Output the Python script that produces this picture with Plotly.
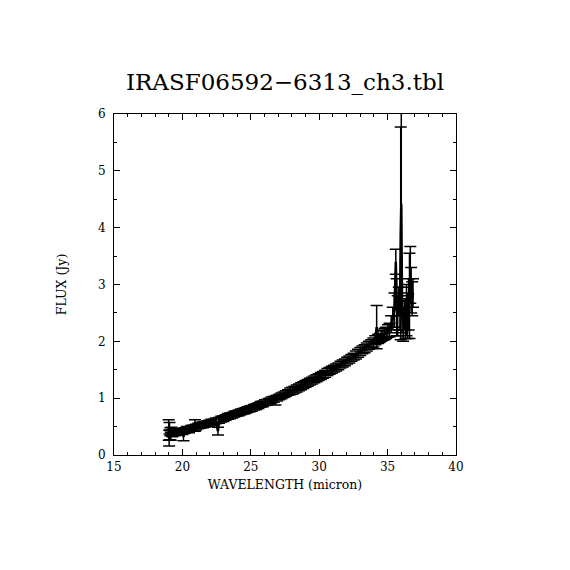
import plotly.graph_objects as go

TITLE = "IRASF06592\u22126313_ch3.tbl"

wavelength = [
    19.00, 19.03, 19.06, 19.09, 19.12, 19.16, 19.20, 19.26, 19.34, 19.45,
    19.58, 19.72, 19.86, 20.00, 20.08, 20.16, 20.32, 20.48, 20.64, 20.80,
    20.92, 21.00, 21.16, 21.32, 21.48, 21.64, 21.80, 21.96, 22.12, 22.28,
    22.44, 22.60, 22.68, 22.84, 23.00, 23.16, 23.32, 23.48, 23.64, 23.80,
    23.96, 24.12, 24.28, 24.44, 24.60, 24.76, 24.92, 25.08, 25.24, 25.40,
    25.56, 25.72, 25.88, 26.04, 26.20, 26.36, 26.52, 26.68, 26.80, 26.92,
    27.08, 27.24, 27.40, 27.56, 27.72, 27.88, 28.04, 28.20, 28.36, 28.52,
    28.68, 28.84, 29.00, 29.16, 29.32, 29.48, 29.64, 29.80, 29.96, 30.12,
    30.28, 30.44, 30.60, 30.76, 30.92, 31.08, 31.24, 31.40, 31.56, 31.72,
    31.88, 32.04, 32.20, 32.36, 32.52, 32.68, 32.84, 33.00, 33.16, 33.32,
    33.48, 33.64, 33.80, 33.96, 34.10, 34.20, 34.30, 34.42, 34.54, 34.66,
    34.78, 34.90, 35.02, 35.14, 35.26, 35.38, 35.50, 35.60, 35.66, 35.74,
    35.82, 35.90, 35.96, 36.00, 36.06, 36.14, 36.22, 36.30, 36.38, 36.46,
    36.54, 36.60, 36.66, 36.72, 36.80, 36.86,
]

flux = [
    0.44, 0.30, 0.47, 0.35, 0.41, 0.33, 0.43, 0.38, 0.41, 0.39,
    0.41, 0.40, 0.42, 0.41, 0.32, 0.43, 0.45, 0.44, 0.47, 0.48,
    0.52, 0.49, 0.51, 0.52, 0.53, 0.54, 0.55, 0.56, 0.58, 0.58,
    0.60, 0.42, 0.61, 0.63, 0.64, 0.66, 0.68, 0.69, 0.70, 0.72,
    0.73, 0.74, 0.76, 0.77, 0.78, 0.80, 0.81, 0.82, 0.84, 0.85,
    0.87, 0.89, 0.90, 0.92, 0.93, 0.95, 0.97, 0.98, 0.96, 1.00,
    1.02, 1.04, 1.06, 1.08, 1.10, 1.12, 1.13, 1.15, 1.17, 1.19,
    1.21, 1.23, 1.25, 1.27, 1.29, 1.31, 1.33, 1.35, 1.37, 1.39,
    1.41, 1.43, 1.46, 1.48, 1.50, 1.52, 1.54, 1.56, 1.59, 1.61,
    1.63, 1.66, 1.68, 1.71, 1.73, 1.76, 1.79, 1.82, 1.85, 1.87,
    1.90, 1.93, 1.96, 1.98, 2.02, 2.25, 2.04, 2.06, 2.09, 2.11,
    2.13, 2.15, 2.18, 2.20, 2.30, 2.40, 2.55, 3.40, 2.60, 2.45,
    2.70, 2.50, 3.90, 4.42, 2.55, 2.30, 2.45, 2.40, 2.55, 2.45,
    2.65, 2.80, 3.17, 2.90, 2.75, 2.85,
]

flux_err = [
    0.18, 0.14, 0.10, 0.08, 0.07, 0.07, 0.06, 0.06, 0.05, 0.05,
    0.05, 0.05, 0.05, 0.05, 0.07, 0.05, 0.05, 0.05, 0.05, 0.05,
    0.10, 0.05, 0.05, 0.05, 0.05, 0.05, 0.05, 0.05, 0.05, 0.05,
    0.05, 0.07, 0.05, 0.05, 0.05, 0.05, 0.05, 0.05, 0.05, 0.05,
    0.05, 0.05, 0.05, 0.05, 0.05, 0.05, 0.05, 0.05, 0.05, 0.05,
    0.05, 0.05, 0.05, 0.05, 0.05, 0.05, 0.05, 0.05, 0.08, 0.05,
    0.05, 0.05, 0.05, 0.05, 0.05, 0.06, 0.06, 0.06, 0.06, 0.06,
    0.06, 0.06, 0.06, 0.06, 0.06, 0.06, 0.06, 0.06, 0.06, 0.06,
    0.06, 0.06, 0.06, 0.06, 0.06, 0.06, 0.06, 0.06, 0.06, 0.06,
    0.06, 0.06, 0.06, 0.06, 0.06, 0.07, 0.07, 0.07, 0.07, 0.07,
    0.07, 0.07, 0.07, 0.08, 0.08, 0.38, 0.08, 0.08, 0.09, 0.09,
    0.10, 0.10, 0.11, 0.12, 0.15, 0.20, 0.30, 0.22, 0.50, 0.35,
    0.25, 0.30, 1.87, 1.70, 0.40, 0.30, 0.25, 0.35, 0.45, 0.40,
    0.45, 0.75, 0.50, 0.40, 0.30, 0.25,
]

FONT = "DejaVu Serif"

fig = go.Figure()
fig.add_trace(go.Scatter(
    x=wavelength, y=flux, mode="lines", cliponaxis=False,
    line=dict(color="black", width=2.5),
    error_y=dict(type="data", array=flux_err, visible=True,
                 color="black", thickness=1.5, width=6),
    showlegend=False,
))

axis_common = dict(
    showgrid=False, zeroline=False, showline=True, linecolor="black",
    linewidth=1, mirror="ticks", ticks="inside", ticklen=6,
    tickcolor="black", tickfont=dict(family=FONT, size=12, color="black"),
)

fig.update_xaxes(
    range=[15, 40], dtick=5, tick0=15, ticklabelstandoff=1,
    minor=dict(ticks="inside", ticklen=3, dtick=1, tickcolor="black"),
    title=dict(text="WAVELENGTH (micron)", standoff=6,
               font=dict(family=FONT, size=12.5, color="black")),
    **axis_common,
)
fig.update_yaxes(
    range=[0, 6], dtick=1, tick0=0, ticklabelstandoff=5,
    minor=dict(ticks="inside", ticklen=3, dtick=0.5, tickcolor="black"),
    title=dict(text="FLUX (Jy)", standoff=28,
               font=dict(family=FONT, size=12.5, color="black")),
    **axis_common,
)

fig.update_layout(
    width=554, height=554,
    margin=dict(l=106, r=106, t=106, b=107),
    paper_bgcolor="white", plot_bgcolor="white",
    title=dict(text=TITLE, x=0.5, xanchor="center", y=0.867, yanchor="middle",
               font=dict(family=FONT, size=23, color="black")),
)

fig.write_html("out.html")
